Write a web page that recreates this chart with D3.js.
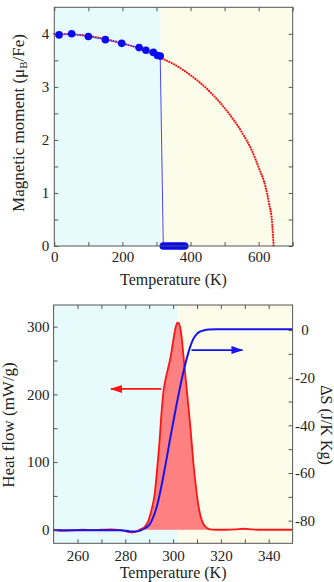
<!DOCTYPE html>
<html>
<head>
<meta charset="utf-8">
<script src="https://cdn.jsdelivr.net/npm/d3@7"></script>
<style>
  body { margin: 0; background: #fff; }
  svg { display: block; }
  text { font-family: "Liberation Serif", "Times New Roman", serif; fill: #222; }
</style>
</head>
<body>
<svg id="chart" width="334" height="582"></svg>
<script>
// === Dane: moment magnetyczny ===
const magT = [14, 51, 100, 150, 198, 249, 269, 291, 303, 311];
const magM = [3.98, 4.0, 3.95, 3.89, 3.82, 3.74, 3.69, 3.65, 3.59, 3.58];
const zeroT = [320, 328, 336, 344, 352, 360, 368, 376, 383];
const fitT = [0, 50, 100, 150, 200, 250, 300, 350, 400, 450, 500, 550, 580, 600, 620, 630, 640, 644];
const fitM = [4.0, 3.99, 3.96, 3.9, 3.82, 3.72, 3.58, 3.43, 3.22, 2.95, 2.6, 2.15, 1.8, 1.48, 1.12, 0.82, 0.4, 0];
const magBoundary = 312;
const magXTicks = [0, 100, 200, 300, 400, 500, 600, 700];
const magXLabels = [0, 200, 400, 600];
const magYTicks = [0, 0.5, 1, 1.5, 2, 2.5, 3, 3.5, 4];
const magYLabels = [0, 1, 2, 3, 4];

// === Dane: DSC ===
const hfT = [250, 254, 258, 262, 266, 270, 274, 278, 281, 283, 285, 286.5, 288, 289.5, 291, 292.3, 293.2, 294.2, 295.2, 296, 297, 298, 299, 300, 301, 301.8, 302.4, 303, 303.6, 304.2, 305.2, 306.3, 307.4, 308.4, 309.5, 310.5, 311.5, 312.6, 314, 315.4, 318, 322, 326, 329.5, 333, 338, 344, 350];
const hfV = [0, -1.5, -1, 0, -0.5, 0, 0.5, -0.5, -3, -4, -2, 1, 4, 12, 30, 53, 85, 125, 175, 205, 225, 240, 256, 278, 298, 306, 305, 298, 284, 262, 225, 186, 145, 102, 65, 38, 20, 9, 3, 0.5, 0, 0, 0.5, 1.5, 0.5, 0, 0, 0];
const dsT = [250, 260, 270, 278, 282, 284, 286, 288, 290.3, 291.7, 293.1, 294.5, 295.8, 297.2, 298.6, 300, 301.4, 302.8, 304.2, 305.3, 306.3, 307.4, 308.4, 309.8, 311.2, 313, 315, 318, 325, 350];
const dsV = [-84, -84, -84, -84, -84.5, -84.6, -84.3, -83.3, -81.4, -78.5, -74.4, -68.5, -62, -54.5, -46.5, -39, -31.5, -24.5, -18, -13.5, -9.8, -6.3, -3.8, -1.8, -0.7, -0.1, 0.2, 0.3, 0.3, 0.3];
const dscBoundary = 302;
const redArrow = [295, 274, 208];     // od T, do T, heat flow
const blueArrow = [307.7, 329, -8.4]; // od T, do T, dS
const dscXTicks = [260, 270, 280, 290, 300, 310, 320, 330, 340];
const dscXLabels = [260, 280, 300, 320, 340];
const hfTicks = [0, 50, 100, 150, 200, 250, 300];
const hfLabels = [0, 100, 200, 300];
const dsTicks = [0, -10, -20, -30, -40, -50, -60, -70, -80];
const dsLabels = [0, -20, -40, -60, -80];

const cyan = "#e8fbfc", cream = "#fcfcea", frameCol = "#555";
const serif = '"Liberation Serif", "Times New Roman", serif';
const svg = d3.select("#chart");

// osie z tickami do środka, etykiety tylko na głównych
function axis(gen, scale, tr, ticks, labels, pad) {
    const set = new Set(labels);
    const g = svg.append("g").attr("transform", tr)
        .call(gen(scale).tickValues(ticks).tickSize(-4).tickPadding(pad)
            .tickFormat(d => set.has(d) ? String(d) : ""));
    g.attr("font-family", serif).attr("font-size", 15);
    g.select(".domain").remove();
    g.selectAll(".tick line").attr("stroke", frameCol);
    g.selectAll(".tick text").attr("fill", "#222");
    return g;
}

// === Panel górny ===
const x1 = d3.scaleLinear().domain([0, 700]).range([54.3, 292.7]);
const y1 = d3.scaleLinear().domain([0, 4.5]).range([246, 7.3]);

svg.append("rect").attr("x", x1(0)).attr("y", y1(4.5))
    .attr("width", x1(magBoundary) - x1(0)).attr("height", y1(0) - y1(4.5)).attr("fill", cyan);
svg.append("rect").attr("x", x1(magBoundary)).attr("y", y1(4.5))
    .attr("width", x1(700) - x1(magBoundary)).attr("height", y1(0) - y1(4.5)).attr("fill", cream);

axis(d3.axisBottom, x1, `translate(0,${y1(0)})`, magXTicks, magXLabels, 5);
axis(d3.axisTop, x1, `translate(0,${y1(4.5)})`, magXTicks, [], 3);
axis(d3.axisLeft, y1, `translate(${x1(0)},0)`, magYTicks, magYLabels, 5);
axis(d3.axisRight, y1, `translate(${x1(700)},0)`, magYTicks, [], 3);

// krzywa dopasowania (kropkowana)
svg.append("path")
    .datum(fitT.map((t, i) => [t, fitM[i]]))
    .attr("d", d3.line().x(d => x1(d[0])).y(d => y1(d[1])).curve(d3.curveMonotoneX))
    .attr("fill", "none").attr("stroke", "#f01818").attr("stroke-width", 2.3)
    .attr("stroke-dasharray", "0,2.6").attr("stroke-linecap", "round");

const magPts = magT.map((t, i) => [t, magM[i]]).concat(zeroT.map(t => [t, 0]));
svg.append("path").datum(magPts)
    .attr("d", d3.line().x(d => x1(d[0])).y(d => y1(d[1])))
    .attr("fill", "none").attr("stroke", "#4646ff").attr("stroke-width", 1);
svg.append("g").selectAll("circle").data(magPts).enter().append("circle")
    .attr("cx", d => x1(d[0])).attr("cy", d => y1(d[1])).attr("r", 3.8)
    .attr("fill", "#0a0aee");

svg.append("rect").attr("x", x1(0)).attr("y", y1(4.5))
    .attr("width", x1(700) - x1(0)).attr("height", y1(0) - y1(4.5))
    .attr("fill", "none").attr("stroke", frameCol);

svg.append("text").attr("x", (x1(0) + x1(700)) / 2).attr("y", 285)
    .attr("text-anchor", "middle").attr("font-size", 16).text("Temperature (K)");
const ml = svg.append("text").attr("transform", "translate(24,123) rotate(-90)")
    .attr("text-anchor", "middle").attr("font-size", 17);
ml.append("tspan").text("Magnetic moment (μ");
ml.append("tspan").attr("font-size", 11).attr("dy", 3).text("B");
ml.append("tspan").attr("dy", -3).text("/Fe)");

// === Panel dolny ===
const x2 = d3.scaleLinear().domain([250, 350]).range([53.6, 292.6]);
const y2 = d3.scaleLinear().domain([-20, 332]).range([543.3, 305]);
const y3 = d3.scaleLinear().domain([-89.5, 10.5]).range([543.3, 305]);

svg.append("rect").attr("x", x2(250)).attr("y", y2(332))
    .attr("width", x2(dscBoundary) - x2(250)).attr("height", y2(-20) - y2(332)).attr("fill", cyan);
svg.append("rect").attr("x", x2(dscBoundary)).attr("y", y2(332))
    .attr("width", x2(350) - x2(dscBoundary)).attr("height", y2(-20) - y2(332)).attr("fill", cream);

const hfPts = hfT.map((t, i) => [t, hfV[i]]);
svg.append("path").datum(hfPts.filter(d => d[0] >= 285.5 && d[0] <= 318))
    .attr("d", d3.area().x(d => x2(d[0])).y0(y2(0)).y1(d => y2(d[1])).curve(d3.curveMonotoneX))
    .attr("fill", "#ff8080");
svg.append("path").datum(hfPts)
    .attr("d", d3.line().x(d => x2(d[0])).y(d => y2(d[1])).curve(d3.curveMonotoneX))
    .attr("fill", "none").attr("stroke", "#ff1414").attr("stroke-width", 1.8);
svg.append("path").datum(dsT.map((t, i) => [t, dsV[i]]))
    .attr("d", d3.line().x(d => x2(d[0])).y(d => y3(d[1])).curve(d3.curveMonotoneX))
    .attr("fill", "none").attr("stroke", "#1414f0").attr("stroke-width", 2);

// strzałki
const defs = svg.append("defs");
[["arRed", "#ff1414"], ["arBlue", "#1414f0"]].forEach(([id, c]) => {
    defs.append("marker").attr("id", id).attr("viewBox", "0 0 12 8")
        .attr("refX", 11).attr("refY", 4).attr("markerWidth", 12).attr("markerHeight", 8)
        .attr("markerUnits", "userSpaceOnUse").attr("orient", "auto")
        .append("path").attr("d", "M0,0L12,4L0,8Z").attr("fill", c);
});
svg.append("line").attr("x1", x2(redArrow[0])).attr("x2", x2(redArrow[1]))
    .attr("y1", y2(redArrow[2])).attr("y2", y2(redArrow[2]))
    .attr("stroke", "#ff1414").attr("stroke-width", 1.8).attr("marker-end", "url(#arRed)");
svg.append("line").attr("x1", x2(blueArrow[0])).attr("x2", x2(blueArrow[1]))
    .attr("y1", y3(blueArrow[2])).attr("y2", y3(blueArrow[2]))
    .attr("stroke", "#1414f0").attr("stroke-width", 1.8).attr("marker-end", "url(#arBlue)");

axis(d3.axisBottom, x2, `translate(0,${y2(-20)})`, dscXTicks, dscXLabels, 7);
axis(d3.axisTop, x2, `translate(0,${y2(332)})`, dscXTicks, [], 3);
axis(d3.axisLeft, y2, `translate(${x2(250)},0)`, hfTicks, hfLabels, 4);
const ra = axis(d3.axisRight, y3, `translate(${x2(350)},0)`, dsTicks, dsLabels, 4);
ra.selectAll(".tick text").attr("text-anchor", "middle").attr("x", 12.5);

svg.append("rect").attr("x", x2(250)).attr("y", y2(332))
    .attr("width", x2(350) - x2(250)).attr("height", y2(-20) - y2(332))
    .attr("fill", "none").attr("stroke", frameCol);

svg.append("text").attr("x", (x2(250) + x2(350)) / 2).attr("y", 578)
    .attr("text-anchor", "middle").attr("font-size", 16).text("Temperature (K)");
svg.append("text").attr("transform", "translate(13.5,425) rotate(-90)")
    .attr("text-anchor", "middle").attr("font-size", 17).text("Heat flow (mW/g)");
svg.append("text").attr("transform", "translate(321,425) rotate(90)")
    .attr("text-anchor", "middle").attr("font-size", 16).text("ΔS (J/K Kg)");
</script>
</body>
</html>
